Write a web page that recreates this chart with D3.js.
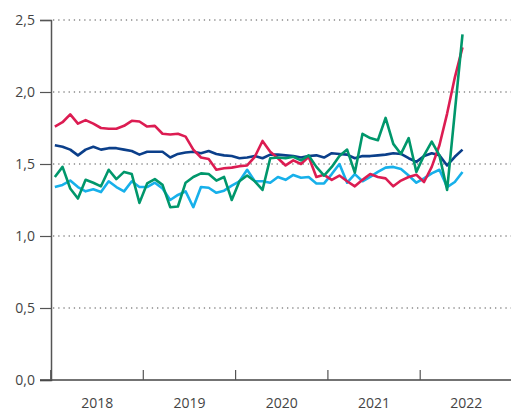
<!DOCTYPE html>
<html>
<head>
<meta charset="utf-8">
<script src="https://cdn.jsdelivr.net/npm/d3@7"></script>
<style>
  body { margin: 0; background: #fff; }
  text { font-family: "Open Sans", sans-serif; }
</style>
</head>
<body>
<div id="chart"></div>
<script>
// monthly values, Jan 2018 - Jun 2022
let years = ["2018", "2019", "2020", "2021", "2022"];
let yTicks = [0, 0.5, 1.0, 1.5, 2.0, 2.5];

let red = [1.76, 1.79, 1.845, 1.78, 1.805, 1.78, 1.75, 1.745, 1.745, 1.765,
  1.80, 1.795, 1.76, 1.765, 1.71, 1.705, 1.71, 1.69, 1.60, 1.545,
  1.535, 1.46, 1.47, 1.475, 1.485, 1.49, 1.55, 1.66, 1.585, 1.54,
  1.49, 1.525, 1.50, 1.55, 1.41, 1.425, 1.39, 1.42, 1.38, 1.345,
  1.39, 1.43, 1.41, 1.40, 1.345, 1.385, 1.41, 1.425, 1.375, 1.48,
  1.63, 1.85, 2.10, 2.31];

let darkBlue = [1.63, 1.62, 1.60, 1.56, 1.60, 1.62, 1.60, 1.61, 1.61, 1.60,
  1.59, 1.565, 1.585, 1.585, 1.585, 1.545, 1.57, 1.58, 1.585, 1.575,
  1.59, 1.57, 1.56, 1.555, 1.54, 1.545, 1.555, 1.54, 1.565, 1.565,
  1.56, 1.555, 1.545, 1.555, 1.56, 1.545, 1.575, 1.57, 1.565, 1.54,
  1.555, 1.555, 1.56, 1.565, 1.575, 1.57, 1.54, 1.515, 1.555, 1.575,
  1.56, 1.49, 1.55, 1.60];

let green = [1.41, 1.48, 1.33, 1.26, 1.39, 1.37, 1.345, 1.46, 1.395, 1.445,
  1.43, 1.23, 1.365, 1.395, 1.355, 1.20, 1.205, 1.37, 1.41, 1.435,
  1.43, 1.385, 1.41, 1.25, 1.38, 1.42, 1.38, 1.32, 1.54, 1.545,
  1.54, 1.55, 1.525, 1.56, 1.48, 1.42, 1.48, 1.555, 1.60, 1.44,
  1.71, 1.68, 1.665, 1.82, 1.64, 1.57, 1.68, 1.445, 1.56, 1.655,
  1.56, 1.32, 1.86, 2.40];

let lightBlue = [1.34, 1.355, 1.385, 1.34, 1.31, 1.325, 1.305, 1.38, 1.34, 1.31,
  1.38, 1.34, 1.34, 1.37, 1.33, 1.25, 1.285, 1.31, 1.20, 1.34,
  1.335, 1.30, 1.315, 1.35, 1.38, 1.46, 1.38, 1.38, 1.37, 1.41,
  1.39, 1.424, 1.405, 1.41, 1.365, 1.365, 1.43, 1.50, 1.37, 1.43,
  1.38, 1.41, 1.445, 1.475, 1.48, 1.465, 1.42, 1.37, 1.40, 1.435,
  1.46, 1.34, 1.375, 1.445];

let width = 511, height = 411;

let svg = d3.select("#chart")
  .append("svg")
  .attr("width", width)
  .attr("height", height);

// x in months since Jan 2018
let x = d3.scaleLinear().domain([0, 60]).range([51, 512.5]);
let y = d3.scaleLinear().domain([0, 2.5]).range([380, 20]);

// dotted grid
svg.append("g")
  .selectAll("line")
  .data(yTicks.filter(d => d > 0))
  .enter()
  .append("line")
  .attr("x1", 53)
  .attr("x2", 511)
  .attr("y1", d => y(d))
  .attr("y2", d => y(d))
  .attr("stroke", "#8a8a8a")
  .attr("stroke-width", 1.3)
  .attr("stroke-dasharray", "1.3,3.9");

// y axis
let yAxis = svg.append("g")
  .attr("transform", `translate(51,0)`)
  .call(d3.axisLeft(y).tickValues(yTicks).tickSize(11).tickPadding(5)
    .tickFormat(d => d3.format(".1f")(d).replace(".", ",")));
yAxis.select(".domain").attr("stroke", "#555").attr("stroke-width", 1.5);
yAxis.selectAll(".tick line").attr("stroke", "#555").attr("stroke-width", 1.2);
yAxis.selectAll("text")
  .style("font-size", "14px")
  .attr("fill", "#444")
  .attr("dy", "0.35em");

// x axis baseline and year ticks
svg.append("line")
  .attr("x1", 40).attr("x2", 511)
  .attr("y1", y(0)).attr("y2", y(0))
  .attr("stroke", "#444").attr("stroke-width", 1.3);

svg.append("g")
  .selectAll("line")
  .data(years)
  .enter()
  .append("line")
  .attr("x1", (d, i) => x(i * 12))
  .attr("x2", (d, i) => x(i * 12))
  .attr("y1", y(0))
  .attr("y2", y(0) - 10)
  .attr("stroke", "#555")
  .attr("stroke-width", (d, i) => i == 0 ? 1.8 : 1.2);

svg.append("g")
  .selectAll("text")
  .data(years)
  .enter()
  .append("text")
  .attr("x", (d, i) => x(i * 12 + 6))
  .attr("y", 408)
  .style("text-anchor", "middle")
  .style("font-size", "14px")
  .attr("fill", "#444")
  .text(d => d);

// lines
let line = d3.line()
  .x((d, i) => x(i + 0.5))
  .y(d => y(d));

let series = [
  { values: darkBlue, color: "#0b3f8a" },
  { values: lightBlue, color: "#17b0ea" },
  { values: red, color: "#dc1c52" },
  { values: green, color: "#00976b" }
];

svg.append("g")
  .selectAll("path")
  .data(series)
  .enter()
  .append("path")
  .attr("d", d => line(d.values))
  .attr("fill", "none")
  .attr("stroke", d => d.color)
  .attr("stroke-width", 2.6)
  .attr("stroke-linejoin", "round");
</script>
</body>
</html>
